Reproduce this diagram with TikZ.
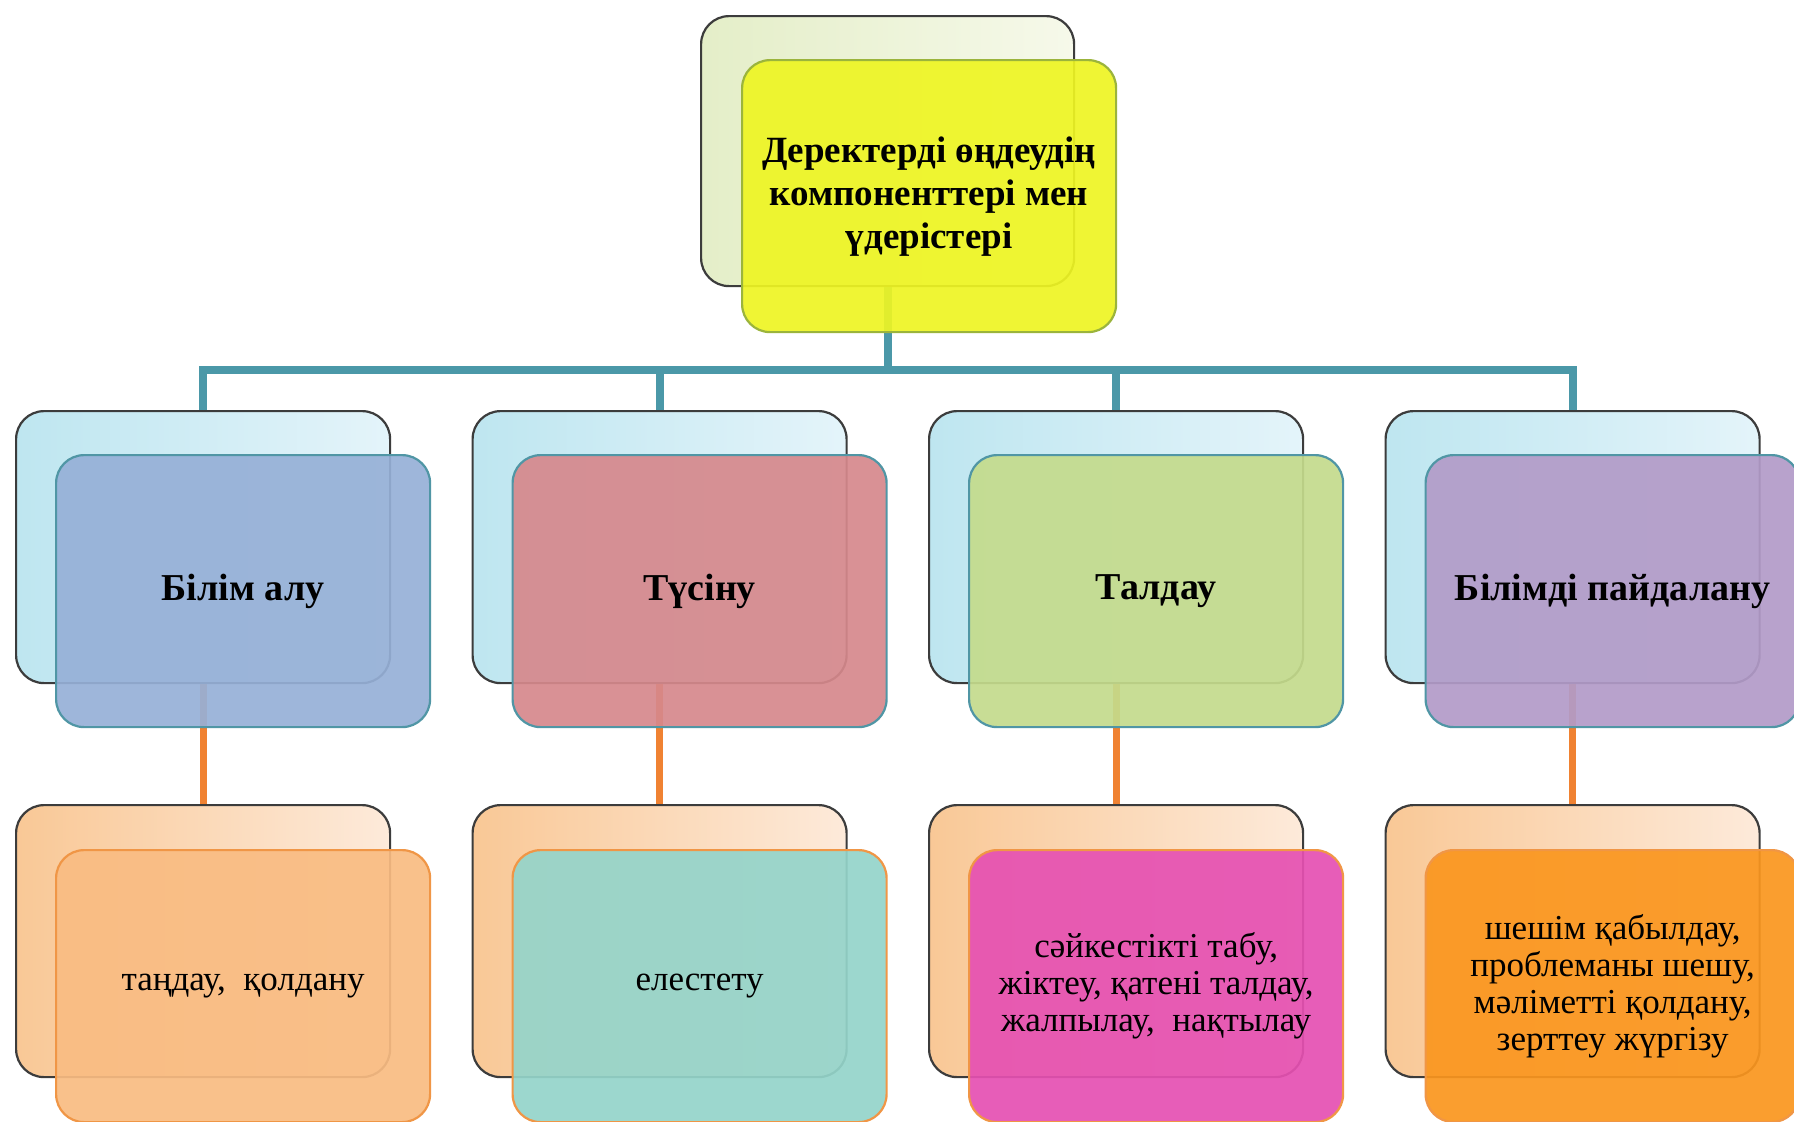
\documentclass[tikz,border=0pt]{standalone}
\usepackage{fontspec}
\setmainfont{Liberation Serif}
\definecolor{busc}{RGB}{75,152,168}
\definecolor{orc}{RGB}{240,130,50}
\definecolor{frontbd}{RGB}{80,150,165}
\definecolor{frontbdo}{RGB}{240,150,70}
\definecolor{backbd}{RGB}{60,60,60}
\definecolor{yelf}{RGB}{238,245,35}
\definecolor{yelbd}{RGB}{155,180,60}
\definecolor{bluef}{RGB}{150,176,215}
\definecolor{redf}{RGB}{214,136,140}
\definecolor{greenf}{RGB}{196,219,140}
\definecolor{purf}{RGB}{178,155,200}
\definecolor{peachf}{RGB}{249,188,130}
\definecolor{mintf}{RGB}{148,212,202}
\definecolor{magf}{RGB}{230,80,178}
\definecolor{orf}{RGB}{250,150,30}
\definecolor{tbL}{RGB}{228,238,200}
\definecolor{tbR}{RGB}{246,249,234}
\definecolor{cbL}{RGB}{190,230,240}
\definecolor{cbR}{RGB}{228,244,250}
\definecolor{pbL}{RGB}{249,200,150}
\definecolor{pbR}{RGB}{253,234,218}
\begin{document}
\begin{tikzpicture}[x=0.5pt,y=-0.5pt,
  box/.style={rectangle, rounded corners=14pt, anchor=north west,
    minimum width=187pt, minimum height=136pt, inner sep=0pt, line width=1.1pt},
  backbox/.style={box, draw=backbd, left color=#1L, middle color=#1R, right color=#1R},
  frontbox/.style={box, draw=frontbd, fill=#1, fill opacity=0.92, text opacity=1,
    align=center, font=\bfseries\fontsize{19}{22}\selectfont},
  leafbox/.style={box, draw=frontbdo, fill=#1, fill opacity=0.92, text opacity=1,
    align=center, font=\fontsize{17.5}{18.5}\selectfont},
  busline/.style={draw=busc, line width=4pt},
  orline/.style={draw=orc, line width=3.5pt}]
\clip (0,0) rectangle (1794,1121);
\fill[white] (0,0) rectangle (1794,1121);
% back boxes
\node[backbox=tb, minimum width=186.5pt, minimum height=135pt] (topb) at (700,15) {};
\node[backbox=cb] (bk1) at (15,410) {};
\node[backbox=cb] (bk2) at (471.5,410) {};
\node[backbox=cb] (bk3) at (928,410) {};
\node[backbox=cb] (bk4) at (1384.5,410) {};
\node[backbox=pb] (ck1) at (15,804) {};
\node[backbox=pb] (ck2) at (471.5,804) {};
\node[backbox=pb] (ck3) at (928,804) {};
\node[backbox=pb] (ck4) at (1384.5,804) {};
% connectors
\draw[busline] (topb.south) -- ++(0,83) -| (bk1.north);
\draw[busline] (topb.south) -- ++(0,83) -| (bk2.north);
\draw[busline] (topb.south) -- ++(0,83) -| (bk3.north);
\draw[busline] (topb.south) -- ++(0,83) -| (bk4.north);
\draw[orline] (bk1.south) -- (ck1.north);
\draw[orline] (bk2.south) -- (ck2.north);
\draw[orline] (bk3.south) -- (ck3.north);
\draw[orline] (bk4.south) -- (ck4.north);
% front boxes
\node[frontbox=yelf, draw=yelbd, font=\bfseries\fontsize{18.5}{21.5}\selectfont] (topf) at (741,59)
  {Деректерді өңдеудің\\компоненттері мен\\үдерістері};
\node[frontbox=bluef] (f1) at (55,454) {Білім алу};
\node[frontbox=redf] (f2) at (511.5,454) {Түсіну};
\node[frontbox=greenf] (f3) at (968,454) {Талдау};
\node[frontbox=purf] (f4) at (1424.5,454) {Білімді пайдалану};
\node[leafbox=peachf] (g1) at (55,849) {таңдау,\ \ қолдану};
\node[leafbox=mintf] (g2) at (511.5,849) {елестету};
\node[leafbox=magf] (g3) at (968,849) {сәйкестікті табу,\\жіктеу, қатені талдау,\\жалпылау,\ \ нақтылау};
\node[leafbox=orf] (g4) at (1424.5,849) {шешім қабылдау,\\проблеманы шешу,\\мәліметті қолдану,\\зерттеу жүргізу};
\end{tikzpicture}
\end{document}
